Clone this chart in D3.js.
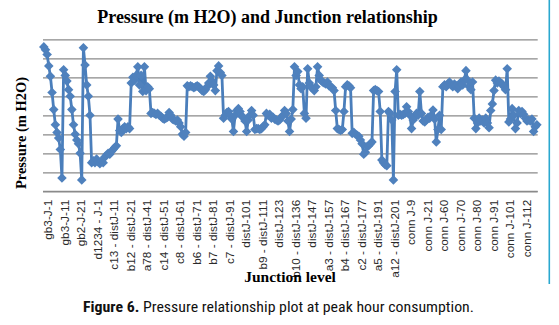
<!DOCTYPE html>
<html>
<head>
<meta charset="utf-8">
<script src="https://cdn.jsdelivr.net/npm/d3@7"></script>
<style>
  html, body { margin: 0; padding: 0; background: #fff; }
  svg { display: block; }
</style>
</head>
<body>
<svg id="chart" width="559" height="325"></svg>
<script>
// ---- data ----
const titleText = "Pressure (m H2O) and Junction relationship";
const yLabel = "Pressure (m H2O)";
const xLabel = "Junction level";
const captionBold = "Figure 6.";
const captionRest = " Pressure relationship plot at peak hour consumption.";

// tick labels shown every 10th junction
const tickLabels = ["gb3-J-1","gb3-J-11","gb2-J-21","d1234 - J-1","c13 - distJ-11","b12 - distJ-21",
  "a78 - distJ-41","c14 - distJ-51","c8 - distJ-61","b6 - distJ-71","b7 - distJ-81","c7 - distJ-91",
  "distJ-101","b9 - distJ-111","distJ-123","b10 - distJ-136","distJ-147","a3 - distJ-157",
  "b4 - distJ-167","c2 - distJ-177","a5 - distJ-191","a12 - distJ-201","conn J-9","conn J-21",
  "conn J-60","conn J-70","conn J-80","conn J-91","conn J-101","conn J-112"];
const tickStep = 10;

// pressure values per junction (relative units; gridline spacing = 10)
const pressure = [
  76, 74.5, 72, 66, 60.5, 52, 43, 35, 31, 28, 22, 7,
  64, 61, 58, 53.5, 50, 43, 35, 30, 27, 25, 20, 6,
  75.5, 66.5, 56, 50, 40, 15,
  16, 15, 17, 15.5, 14.5, 16, 15, 18, 19, 20, 19.5, 21, 22, 23, 24, 38, 32, 31, 33, 34, 33, 34, 33,
  57, 60, 58.5, 61, 65.5, 56, 61, 52.5, 65.5, 53, 55, 54,
  41, 41.5, 41, 40.5, 41, 40, 39.5, 38.5, 38, 38.5, 39, 41.5, 40, 38, 37.5, 37, 37.5, 36, 34, 30, 29, 31,
  55.5, 55, 55.5, 55, 54.5, 55, 55.5, 55, 54, 53, 52.5, 53.5, 55, 57, 60.5, 58, 56, 53, 63.5, 66, 62.5, 61,
  38.5, 40, 41.5, 42, 40, 38, 31.5, 40, 42.5, 43.5, 42, 39.5, 39, 37, 31.5, 37.5, 40, 42.5, 40, 32.5,
  33, 33, 32.5, 33, 34, 35, 41, 40, 40.5, 38.5, 39, 38, 37.5, 37, 37.5, 39, 40, 42.5, 41, 37, 31.5, 38, 43,
  65.5, 61, 63, 56, 54, 55, 41, 38.5, 64.5, 57, 55, 54, 53, 55, 65.5, 61, 58.5, 57.5, 57, 56.5, 57.5, 55.5, 55, 54.5, 53,
  42.5, 33, 32.5, 32, 32.5, 42, 55, 56, 55.5, 54.5, 30.5, 31, 30, 29.5, 29, 27, 25, 19.5, 20.5, 23.5, 24, 25, 26, 53,
  53.5, 53, 52.5, 42, 16.5, 15, 14, 13.5, 42, 41, 37.5, 6, 52.5, 64, 40,
  40.5, 40, 40.5, 41, 44.5, 42, 40, 33, 37.5, 39.5, 41, 40, 52.5, 41, 37, 36.5, 37.5, 39, 38.5, 40, 42.8, 38, 26, 32.5, 40, 32.5, 55,
  56, 55, 56.5, 57.5, 56, 55, 56.5, 55.5, 54, 55.5, 57.5, 56, 58.5, 63.5, 58.5, 55, 53.5, 57.5, 38.5,
  33, 36, 38.5, 37, 37.5, 36, 38.5, 36, 33.5, 42.5, 46, 53, 58.5, 57, 58, 57, 56.5, 55, 53.5, 64.5, 36.5,
  38, 43.5, 40, 33, 36, 42.5, 41, 42, 40.5, 38.5, 37, 37.5, 37, 38, 31.5, 34, 35
];
const yDomain = [0, 80];
const yTicks = [0, 10, 20, 30, 40, 50, 60, 70, 80];

// ---- layout ----
const svg = d3.select("#chart");
const plot = { left: 43, right: 537.7, top: 39.3, bottom: 191.3 };
const idx = d3.range(pressure.length);

const x = d3.scaleBand().domain(idx).range([plot.left, plot.right]).padding(0);
const cx = i => x(i) + x.bandwidth() / 2;
const y = d3.scaleLinear().domain(yDomain).range([plot.bottom, plot.top]);

// gridlines
svg.append("g")
  .attr("transform", `translate(${plot.left},0)`)
  .call(d3.axisLeft(y).tickValues(yTicks).tickSize(-(plot.right - plot.left)).tickFormat(""))
  .call(g => g.select(".domain").remove())
  .call(g => g.selectAll("line").attr("stroke", "#8a8a8a").attr("stroke-width", 1.3));

// x axis
const xAxis = d3.axisBottom(x)
  .tickValues(idx.filter(i => i % tickStep === 0))
  .tickSize(0)
  .tickFormat(i => tickLabels[i / tickStep]);

svg.append("g")
  .attr("transform", `translate(0,${plot.bottom})`)
  .call(xAxis)
  .call(g => g.select(".domain").attr("stroke", "#8a8a8a").attr("stroke-width", 1.3)
       .attr("d", `M${plot.left},0H${plot.right}`))
  .call(g => g.selectAll("text")
    .attr("transform", "rotate(-90)")
    .attr("text-anchor", "end")
    .attr("x", -8.5)
    .attr("y", 8.5)
    .attr("dy", 0)
    .attr("fill", "#2a2a2a")
    .style("font-family", "'Liberation Sans', Arial, sans-serif")
    .style("font-size", "11.8px"));

// line
const color = "#4a7ebb";
svg.append("path")
  .datum(pressure)
  .attr("fill", "none")
  .attr("stroke", color)
  .attr("stroke-width", 2.8)
  .attr("stroke-linejoin", "round")
  .attr("d", d3.line().x((d, i) => cx(i)).y(d => y(d)));

// diamond markers
const diamond = d3.symbol().type(d3.symbolSquare).size(46);
svg.append("g")
  .selectAll("path")
  .data(pressure)
  .join("path")
  .attr("d", diamond)
  .attr("transform", (d, i) => `translate(${cx(i)},${y(d)}) rotate(45)`)
  .attr("fill", "#4f81bd");

// title
svg.append("text")
  .attr("x", 267.5).attr("y", 23.3)
  .attr("text-anchor", "middle")
  .style("font-family", "'Liberation Serif', 'Times New Roman', serif")
  .style("font-weight", "bold")
  .style("font-size", "18px")
  .attr("fill", "#000")
  .text(titleText);

// y label
svg.append("text")
  .attr("transform", "translate(26,133) rotate(-90)")
  .attr("text-anchor", "middle")
  .style("font-family", "'Liberation Serif', 'Times New Roman', serif")
  .style("font-weight", "bold")
  .style("font-size", "14.5px")
  .attr("fill", "#000")
  .text(yLabel);

// x label
svg.append("text")
  .attr("x", 290).attr("y", 281.5)
  .attr("text-anchor", "middle")
  .style("font-family", "'Liberation Serif', 'Times New Roman', serif")
  .style("font-weight", "bold")
  .style("font-size", "15.5px")
  .attr("fill", "#000")
  .text(xLabel);

// right frame line
svg.append("line")
  .attr("x1", 549.3).attr("x2", 549.3).attr("y1", 0).attr("y2", 284)
  .attr("stroke", "#2aa8cf").attr("stroke-width", 1.6);

// caption
const cap = svg.append("text")
  .attr("x", 83).attr("y", 312)
  .style("font-family", "'Liberation Sans Narrow', 'Roboto Condensed', 'DejaVu Sans Condensed', sans-serif")
  .style("font-size", "14.5px")
  .attr("fill", "#111")
  .attr("textLength", 391)
  .attr("lengthAdjust", "spacingAndGlyphs");
cap.append("tspan").style("font-weight", "bold").text(captionBold);
cap.append("tspan").text(captionRest);
</script>
</body>
</html>
